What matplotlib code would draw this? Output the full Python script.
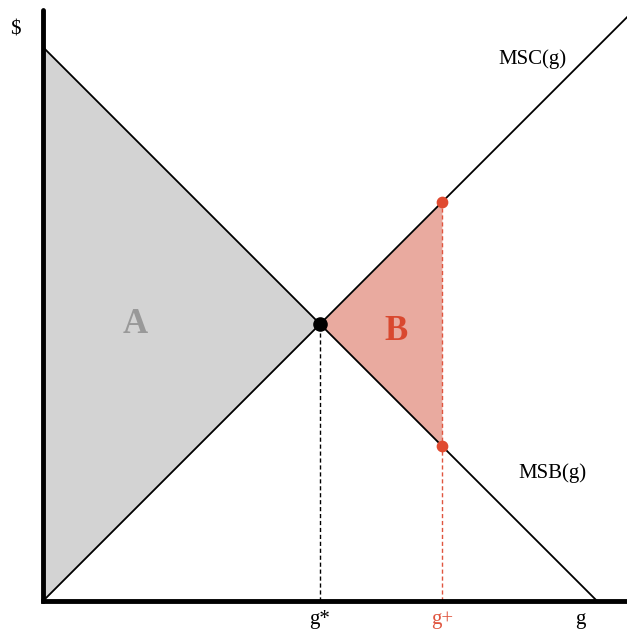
import matplotlib
matplotlib.use("Agg")
import matplotlib.pyplot as plt
import numpy as np

# Data
msc_intercept, msc_slope = 0.0, 1.0
msb_intercept, msb_slope = 10.0, -1.0
g_star = 5.0
g_plus = 7.2
xmax, ymax = 10.54, 10.67
x_labels = ['g*', 'g+', 'g']
x_label_pos = [g_star, g_plus, 9.7]

plt.rcParams['font.family'] = ['Liberation Serif', 'DejaVu Serif']

fig = plt.figure(figsize=(6.27, 6.33), dpi=100)
ax = fig.add_axes([43/627, 32/633, 584/627, 591/633])
ax.set_xlim(0, xmax)
ax.set_ylim(0, ymax)

def msc(g):
    return msc_intercept + msc_slope * np.asarray(g)

def msb(g):
    return msb_intercept + msb_slope * np.asarray(g)

# Area A
gA = np.array([0, g_star])
ax.fill_between(gA, msc(gA), msb(gA), color='#d3d3d3', zorder=1, linewidth=0)
# Area B
gB = np.array([g_star, g_plus])
ax.fill_between(gB, msb(gB), msc(gB), color='#e9aa9f', zorder=1, linewidth=0)

# Lines
gm = np.linspace(0, xmax, 50)
ax.plot(gm, msc(gm), color='black', lw=1.3, zorder=3)
gb = np.linspace(0, msb_intercept / -msb_slope, 50)
ax.plot(gb, msb(gb), color='black', lw=1.3, zorder=3)

# Dashed verticals
ax.plot([g_star, g_star], [0, msc(g_star)], color='black', lw=1.0, ls=(0, (3, 2)), zorder=2)
ax.plot([g_plus, g_plus], [0, msc(g_plus)], color='#e0553f', lw=1.0, ls=(0, (3, 2)), zorder=2)

# Points
ax.scatter([g_star], [msc(g_star)], s=90, color='black', zorder=5)
ax.scatter([g_plus, g_plus], [msc(g_plus), msb(g_plus)], s=55, color='#e04a30', zorder=5)

# Spines
for s in ['top', 'right']:
    ax.spines[s].set_visible(False)
ax.spines['left'].set_linewidth(3.5)
ax.spines['bottom'].set_linewidth(3.5)
ax.spines['left'].set_capstyle('round')
ax.set_xticks([])
ax.set_yticks([])

# Labels
fs = 15
colors = ['black', '#e0553f', 'black']
for lab, xp, c in zip(x_labels, x_label_pos, colors):
    ax.text(xp, -0.42, lab, ha='center', va='baseline', fontsize=fs, color=c)
ax.text(-0.5, 10.3, '$', ha='center', va='center', fontsize=fs)
ax.text(8.83, 9.78, 'MSC(g)', ha='center', va='center', fontsize=fs)
ax.text(9.2, 2.3, 'MSB(g)', ha='center', va='center', fontsize=fs)
ax.text(1.66, 5.0, 'A', ha='center', va='center', fontsize=25, fontweight='bold', color='#999999')
ax.text(6.38, 4.87, 'B', ha='center', va='center', fontsize=25, fontweight='bold', color='#d9482f')

fig.savefig('out.png', dpi=100)
